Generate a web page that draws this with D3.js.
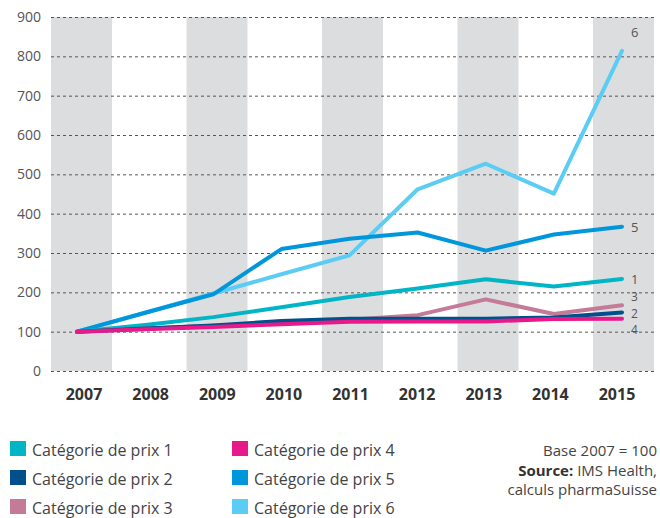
<!DOCTYPE html>
<meta charset="utf-8">
<style>
body { margin: 0; background: #fff; }
text { font-family: "Open Sans", "Noto Sans", sans-serif; fill: #555; }
.ytick { font-size: 14px; text-anchor: end; }
.xtick { font-size: 16px; font-weight: bold; fill: #333; text-anchor: middle; }
.grid { stroke: #555; stroke-width: 1; stroke-dasharray: 3,3; }
.line { fill: none; stroke-width: 4px; stroke-linecap: round; stroke-linejoin: round; }
.endlabel { font-size: 13px; }
.tight { font-size: 12px; }
.legend { font-size: 16px; fill: #444; }
.note { font-size: 15px; fill: #444; text-anchor: end; }
</style>
<svg width="660" height="518"></svg>
<script src="https://cdnjs.cloudflare.com/ajax/libs/d3/7.8.5/d3.min.js"></script>
<script>

var years = ["2007", "2008", "2009", "2010", "2011", "2012", "2013", "2014", "2015"];
var yTicks = [0, 100, 200, 300, 400, 500, 600, 700, 800, 900];

var prix1 = [100, 117, 137, 162, 188, 210, 233, 215, 234];
var prix2 = [100, 108, 116, 127, 133, 133, 133, 136, 149];
var prix3 = [100, 108, 115, 121, 130, 142, 182, 145, 167];
var prix4 = [100, 106, 112, 119, 125, 126, 126, 132, 133];
var prix5 = [100, 148, 195, 310, 336, 352, 306, 347, 367];
var prix6 = [100, 148, 197, 246, 294, 462, 527, 451, 814];

var names = ["Catégorie de prix 1", "Catégorie de prix 2", "Catégorie de prix 3",
             "Catégorie de prix 4", "Catégorie de prix 5", "Catégorie de prix 6"];
var colors = ["#00b5c5", "#00508c", "#c47b97", "#e8198b", "#0096db", "#5bcdf5"];
var endLabels = ["1", "2", "3", "4", "5", "6"];

var series = [prix1, prix2, prix3, prix4, prix5, prix6].map(function(v, i) {
  return { name: names[i], color: colors[i], label: endLabels[i], values: v };
});

var svg = d3.select("svg");

var band = d3.scaleBand().domain(years).range([51, 654]).paddingInner(0.1).paddingOuter(0);
var x = d3.scalePoint().domain(years).range([77, 622]);
var xl = d3.scalePoint().domain(years).range([84, 617]);
var y = d3.scaleLinear().domain([0, 900]).range([371, 17]);

// grey columns for every other year
svg.append("g").selectAll("rect")
    .data(years.filter(function(d, i) { return i % 2 === 0; }))
  .enter().append("rect")
    .attr("x", function(d) { return band(d); })
    .attr("y", y(900))
    .attr("width", band.bandwidth())
    .attr("height", y(0) - y(900))
    .attr("fill", "#dcdddf");

svg.append("g").selectAll("line")
    .data(yTicks)
  .enter().append("line")
    .attr("class", "grid")
    .attr("x1", 51).attr("x2", 654)
    .attr("y1", function(d) { return y(d) + 0.5; })
    .attr("y2", function(d) { return y(d) + 0.5; });

svg.append("g").selectAll("text")
    .data(yTicks)
  .enter().append("text")
    .attr("class", "ytick")
    .attr("x", 41)
    .attr("y", function(d) { return y(d) + 5; })
    .text(function(d) { return d; });

svg.append("g").selectAll("text")
    .data(years)
  .enter().append("text")
    .attr("class", "xtick")
    .attr("x", function(d) { return xl(d); })
    .attr("y", 400)
    .text(function(d) { return d; });

var line = d3.line()
    .x(function(d, i) { return x(years[i]); })
    .y(function(d) { return y(d); });

var drawOrder = [5, 4, 0, 2, 1, 3];
svg.append("g").selectAll("path")
    .data(drawOrder.map(function(i) { return series[i]; }))
  .enter().append("path")
    .attr("class", "line")
    .attr("stroke", function(d) { return d.color; })
    .attr("d", function(d) { return line(d.values); });

// end labels, nudged apart where lines bunch up (3, 2, 4 are stacked)
var labelDy = { "1": 5, "2": 6, "3": -4, "4": 15, "5": 5, "6": -14 };
svg.append("g").selectAll("text")
    .data(series)
  .enter().append("text")
    .attr("class", function(d) { return "2 3 4".indexOf(d.label) >= 0 ? "endlabel tight" : "endlabel"; })
    .attr("x", 631)
    .attr("y", function(d) { return y(d.values[d.values.length - 1]) + labelDy[d.label]; })
    .text(function(d) { return d.label; });

// legend
var legend = svg.append("g").selectAll("g")
    .data(series)
  .enter().append("g")
    .attr("transform", function(d, i) {
      return "translate(" + (i < 3 ? 10 : 232) + "," + (441 + (i % 3) * 29) + ")";
    });

legend.append("rect")
    .attr("width", 16).attr("height", 15)
    .attr("fill", function(d) { return d.color; });

legend.append("text")
    .attr("class", "legend")
    .attr("x", 22)
    .attr("y", 15)
    .text(function(d) { return d.name; });

var note = svg.append("text").attr("class", "note");
note.append("tspan").attr("x", 657).attr("y", 456).text("Base 2007 = 100");
var src = note.append("tspan").attr("x", 657).attr("y", 476);
src.append("tspan").attr("font-weight", "bold").attr("fill", "#333").text("Source:");
src.append("tspan").text(" IMS Health,");
note.append("tspan").attr("x", 657).attr("y", 495).text("calculs pharmaSuisse");

</script>
